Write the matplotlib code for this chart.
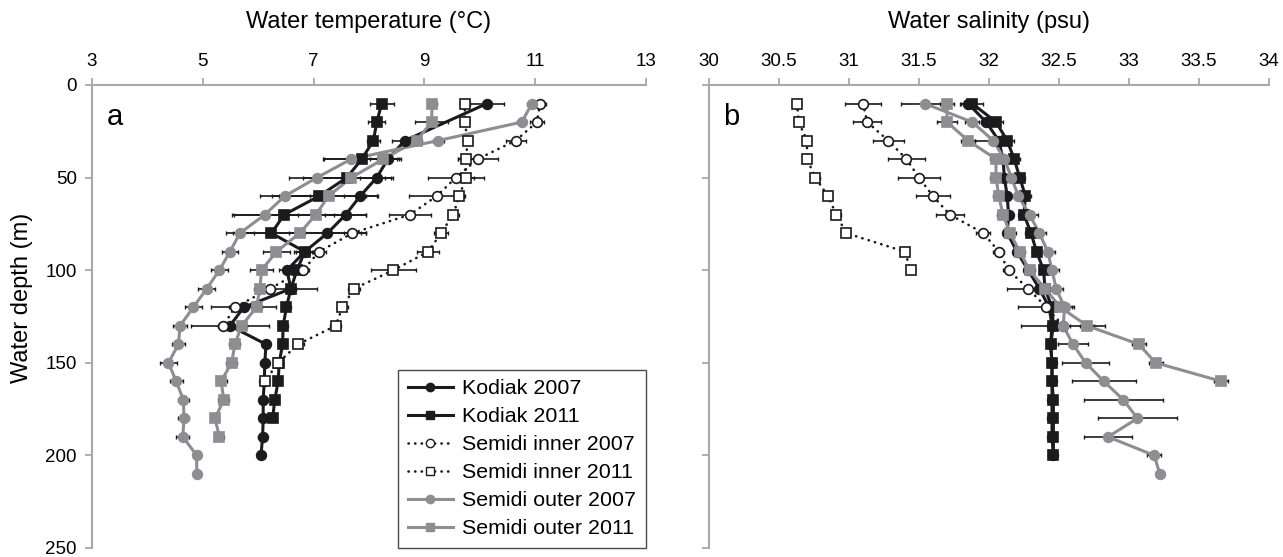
import numpy as np
import matplotlib
matplotlib.use("Agg")
import matplotlib.pyplot as plt
from matplotlib.lines import Line2D

plt.rcParams['font.family'] = ['Liberation Sans', 'DejaVu Sans']

BLACK = '#1b1b1d'
GRAY = '#8e8e92'
SPINE = '#a8a8a8'

# ---- panel a: water temperature (deg C) ----
d_k07_t = [10, 30, 40, 50, 60, 70, 80, 90, 100, 110, 120, 130, 140, 150, 160, 170, 180, 190, 200]
t_k07 = [10.13, 8.65, 8.34, 8.14, 7.84, 7.58, 7.25, 6.84, 6.52, 6.59, 5.74, 5.49, 6.14, 6.12, 6.11, 6.09, 6.09, 6.08, 6.05]
e_k07_t = [0.3, 0.24, 0.2, 0.3, 0.3, 0.37, 0.7, 0.2, 0.15, 0.48, 0.59, 0.7, 0.08, 0.08, 0.08, 0.08, 0.08, 0.08, 0.08]

d_k11_t = list(range(10, 190, 10))
t_k11 = [8.23, 8.14, 8.08, 7.87, 7.6, 7.1, 6.47, 6.24, 6.84, 6.7, 6.59, 6.51, 6.45, 6.44, 6.38, 6.36, 6.3, 6.26]
e_k11_t = [0.22, 0.15, 0.12, 0.7, 0.8, 0.85, 0.9, 0.6, 0.15, 0.2, 0.1, 0.08, 0.08, 0.08, 0.06, 0.06, 0.06, 0.06]

d_si07_t = list(range(10, 140, 10))
t_si07 = [11.09, 11.03, 10.65, 9.96, 9.57, 9.22, 8.74, 7.7, 7.1, 6.81, 6.21, 5.58, 5.37]
e_si07_t = [0.1, 0.13, 0.18, 0.36, 0.5, 0.5, 0.38, 0.15, 0.12, 0.1, 0.1, 0.1, 0.1]

d_si11_t = list(range(10, 170, 10))
t_si11 = [9.73, 9.73, 9.78, 9.75, 9.75, 9.63, 9.52, 9.3, 9.07, 8.44, 7.73, 7.52, 7.4, 6.72, 6.36, 6.12]
e_si11_t = [0.08, 0.08, 0.08, 0.15, 0.15, 0.1, 0.1, 0.12, 0.2, 0.41, 0.1, 0.1, 0.1, 0.1, 0.08, 0.08]

d_so07_t = list(range(10, 220, 10))
t_so07 = [10.94, 10.76, 9.25, 7.68, 7.06, 6.48, 6.12, 5.67, 5.49, 5.3, 5.07, 4.83, 4.59, 4.56, 4.38, 4.52, 4.65, 4.66, 4.64, 4.89, 4.89]
e_so07_t = [0.08, 0.08, 0.1, 0.5, 0.5, 0.45, 0.6, 0.25, 0.15, 0.16, 0.15, 0.15, 0.12, 0.12, 0.15, 0.12, 0.1, 0.1, 0.12, 0.05, 0.05]

d_so11_t = list(range(10, 200, 10))
t_so11 = [9.14, 9.13, 8.86, 8.26, 7.68, 7.27, 7.04, 6.75, 6.33, 6.06, 6.03, 5.97, 5.7, 5.58, 5.52, 5.33, 5.38, 5.22, 5.3]
e_so11_t = [0.08, 0.3, 0.1, 0.25, 0.6, 0.9, 0.9, 1.2, 0.24, 0.2, 0.1, 0.1, 0.1, 0.1, 0.1, 0.1, 0.1, 0.08, 0.08]

# ---- panel b: water salinity (psu) ----
d_k07_s = list(range(10, 210, 10))
s_k07 = [31.85, 31.98, 32.07, 32.1, 32.11, 32.13, 32.14, 32.13, 32.2, 32.28, 32.36, 32.43, 32.45, 32.44, 32.45, 32.45, 32.45, 32.45, 32.45, 32.46]
e_k07_s = [0.06, 0.04, 0.04, 0.03, 0.03, 0.03, 0.03, 0.03, 0.03, 0.03, 0.03, 0.03, 0.02, 0.02, 0.02, 0.02, 0.02, 0.02, 0.02, 0.02]

d_k11_s = list(range(10, 210, 10))
s_k11 = [31.88, 32.05, 32.13, 32.18, 32.22, 32.26, 32.25, 32.3, 32.34, 32.39, 32.4, 32.45, 32.46, 32.44, 32.45, 32.45, 32.46, 32.46, 32.46, 32.46]
e_k11_s = [0.08, 0.05, 0.05, 0.04, 0.04, 0.04, 0.04, 0.04, 0.03, 0.03, 0.03, 0.03, 0.02, 0.02, 0.02, 0.02, 0.02, 0.02, 0.02, 0.02]

d_si07_s = list(range(10, 140, 10))
s_si07 = [31.1, 31.13, 31.28, 31.41, 31.5, 31.6, 31.72, 31.96, 32.07, 32.14, 32.28, 32.41, 32.53]
e_si07_s = [0.13, 0.1, 0.11, 0.13, 0.15, 0.12, 0.1, 0.05, 0.04, 0.04, 0.15, 0.2, 0.05]

d_si11_s = list(range(10, 110, 10))
s_si11 = [30.63, 30.64, 30.7, 30.7, 30.76, 30.85, 30.91, 30.98, 31.4, 31.44]
e_si11_s = [0.03, 0.03, 0.03, 0.03, 0.03, 0.03, 0.03, 0.03, 0.03, 0.03]

d_so07_s = list(range(10, 220, 10))
s_so07 = [31.54, 31.88, 32.03, 32.11, 32.16, 32.21, 32.29, 32.36, 32.42, 32.45, 32.48, 32.54, 32.53, 32.6, 32.69, 32.82, 32.96, 33.06, 32.85, 33.18, 33.22]
e_so07_s = [0.17, 0.05, 0.13, 0.05, 0.05, 0.05, 0.06, 0.05, 0.05, 0.05, 0.05, 0.05, 0.3, 0.11, 0.17, 0.23, 0.28, 0.28, 0.17, 0.05, 0.03]

d_so11_s = list(range(10, 170, 10))
s_so11 = [31.7, 31.7, 31.85, 32.05, 32.05, 32.07, 32.1, 32.15, 32.22, 32.29, 32.4, 32.51, 32.7, 33.07, 33.19, 33.66]
e_so11_s = [0.05, 0.07, 0.05, 0.04, 0.04, 0.04, 0.04, 0.04, 0.04, 0.04, 0.04, 0.05, 0.05, 0.05, 0.05, 0.05]

labels = ['Kodiak 2007', 'Kodiak 2011', 'Semidi inner 2007', 'Semidi inner 2011',
          'Semidi outer 2007', 'Semidi outer 2011']

DOT = (0, (0.1, 2.4))
styles = [
    dict(color=BLACK, ls='-', marker='o', mfc=BLACK, mec=BLACK),
    dict(color=BLACK, ls='-', marker='s', mfc=BLACK, mec=BLACK),
    dict(color=BLACK, ls=DOT, marker='o', mfc='white', mec=BLACK),
    dict(color=BLACK, ls=DOT, marker='s', mfc='white', mec=BLACK),
    dict(color=GRAY, ls='-', marker='o', mfc=GRAY, mec=GRAY),
    dict(color=GRAY, ls='-', marker='s', mfc=GRAY, mec=GRAY),
]

temp = [(t_k07, d_k07_t, e_k07_t), (t_k11, d_k11_t, e_k11_t), (t_si07, d_si07_t, e_si07_t),
        (t_si11, d_si11_t, e_si11_t), (t_so07, d_so07_t, e_so07_t), (t_so11, d_so11_t, e_so11_t)]
sal = [(s_k07, d_k07_s, e_k07_s), (s_k11, d_k11_s, e_k11_s), (s_si07, d_si07_s, e_si07_s),
       (s_si11, d_si11_s, e_si11_s), (s_so07, d_so07_s, e_so07_s), (s_so11, d_so11_s, e_so11_s)]

fig = plt.figure(figsize=(12.83, 5.57), dpi=100)
ax_a = fig.add_axes([0.0717, 0.0162, 0.4318, 0.8312])
ax_b = fig.add_axes([0.5526, 0.0162, 0.4365, 0.8312])


def draw(ax, data):
    for (x, d, e), st in zip(data, styles):
        ax.errorbar(x, d, xerr=e, fmt='none', ecolor=BLACK, elinewidth=1.2,
                    capsize=1.5, capthick=1.0, zorder=1.5)
    for (x, d, e), st in zip(data, styles):
        dotted = st['ls'] == DOT
        ax.plot(x, d, color=st['color'], ls=st['ls'], lw=1.9 if dotted else 2.2,
                dash_capstyle='round', zorder=2)
        ax.plot(x, d, ls='none', marker=st['marker'], ms=7 if st['marker'] == 'o' else 7.3,
                mfc=st['mfc'], mec=st['mec'], mew=1.2, zorder=3)


def style(ax, xlim, xticks, xlabel, letter, showy):
    ax.set_xlim(*xlim)
    ax.set_ylim(250, 0)
    ax.set_xticks(xticks)
    ax.set_xticklabels([('%g' % v) for v in xticks])
    ax.set_yticks([0, 50, 100, 150, 200, 250])
    ax.xaxis.tick_top()
    ax.xaxis.set_label_position('top')
    ax.set_xlabel(xlabel, fontsize=17, labelpad=18)
    for s in ['right', 'bottom']:
        ax.spines[s].set_visible(False)
    for s in ['top', 'left']:
        ax.spines[s].set_color(SPINE)
        ax.spines[s].set_linewidth(1.5)
    ax.tick_params(axis='both', direction='out', length=5, width=1.3, color=SPINE,
                   labelsize=13.5, pad=6)
    ax.tick_params(axis='x', pad=6)
    if not showy:
        ax.tick_params(axis='y', labelleft=False)
    ax.text(0.026, 0.93, letter, transform=ax.transAxes, fontsize=21, va='center', ha='left')


draw(ax_a, temp)
draw(ax_b, sal)
style(ax_a, (3, 13), [3, 5, 7, 9, 11, 13], 'Water temperature (°C)', 'a', True)
style(ax_b, (30, 34), [30, 30.5, 31, 31.5, 32, 32.5, 33, 33.5, 34], 'Water salinity (psu)', 'b', False)
ax_a.set_ylabel('Water depth (m)', fontsize=17)
ax_a.yaxis.set_label_coords(-0.106, 0.54)

handles = []
for st in styles:
    dotted = st['ls'] == DOT
    handles.append(Line2D([], [], color=st['color'], ls=st['ls'], lw=1.9 if dotted else 2.2,
                          marker=st['marker'], ms=6, mfc=st['mfc'], mec=st['mec'], mew=1.0,
                          dash_capstyle='round'))
leg = ax_a.legend(handles, labels, loc='lower right', bbox_to_anchor=(1.0, 0.0),
                  borderaxespad=0, fontsize=15.4, frameon=True, fancybox=False,
                  handlelength=2.1, labelspacing=0.42, handletextpad=0.45, borderpad=0.45)
leg.get_frame().set_edgecolor(BLACK)
leg.get_frame().set_linewidth(1.0)

fig.savefig('out.png', dpi=100)
